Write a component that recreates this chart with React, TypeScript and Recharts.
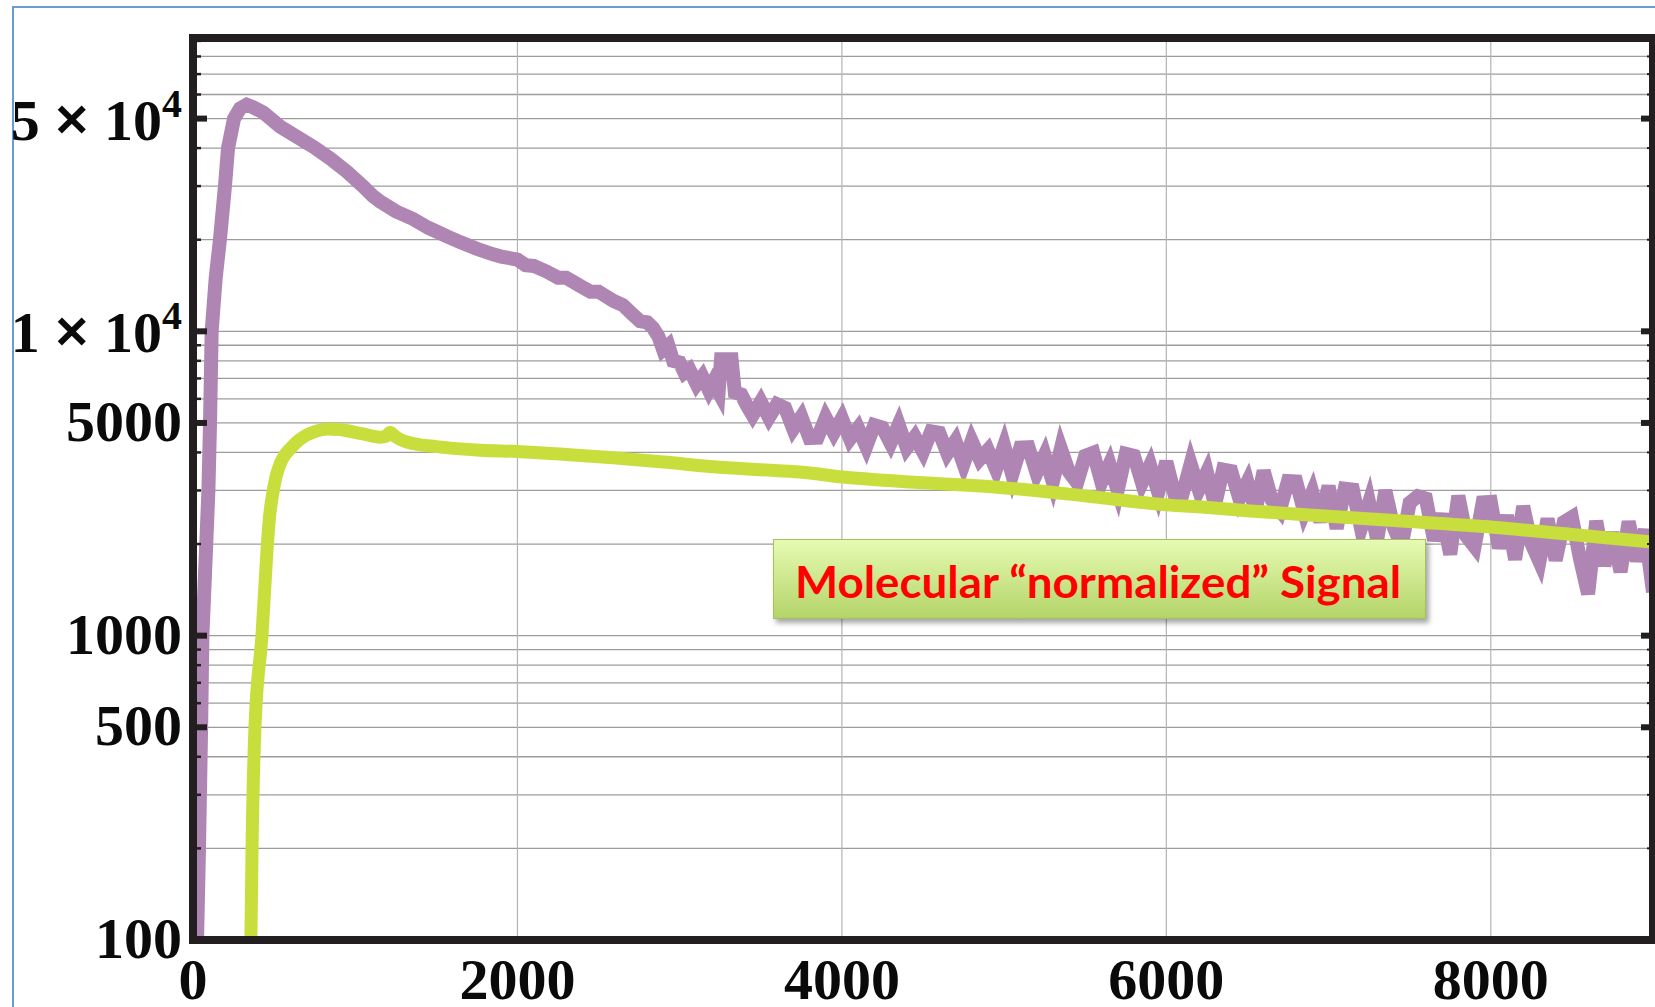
import React from "react";
import { LineChart, Line, XAxis, YAxis, CartesianGrid } from "recharts";

const X_TICKS = [0, 2000, 4000, 6000, 8000];
const X_MINOR = [500, 1000, 1500, 2500, 3000, 3500, 4500, 5000, 5500, 6500, 7000, 7500, 8500];
const Y_TICKS = [100, 500, 1000, 5000, 10000, 50000];
const Y_GRID = [
  100, 200, 300, 400, 500, 600, 700, 800, 900,
  1000, 2000, 3000, 4000, 5000, 6000, 7000, 8000, 9000,
  10000, 20000, 30000, 40000, 50000, 60000, 70000, 80000, 90000,
];

// purple: raw molecular signal (noisy)
const purpleT = [
  0, 20, 25, 37, 50, 58, 80, 95, 105, 115, 140, 166, 197, 216, 253, 290, 331, 370, 434, 536,
  642, 742, 845, 948, 1050, 1110, 1153, 1250, 1356, 1450, 1566, 1650, 1769, 1850, 1900, 2000,
  2050, 2100, 2182, 2250, 2300, 2386, 2450, 2500, 2590, 2650, 2700, 2756, 2800, 2836, 2870,
  2898, 2930, 2960, 3000, 3030, 3060, 3105, 3140, 3180, 3206, 3240, 3255, 3320, 3340, 3380, 3415,
  3450, 3500, 3550, 3600, 3650, 3700, 3750, 3800, 3850, 3900, 3950, 4000, 4050, 4100, 4150,
  4200, 4250, 4300, 4350, 4400, 4450, 4500, 4550, 4600, 4650, 4700, 4750, 4800, 4850, 4900,
  4950, 5000, 5050, 5100, 5150, 5200, 5250, 5300, 5350, 5400, 5450, 5500, 5550, 5600, 5650,
  5700, 5750, 5800, 5850, 5900, 5950, 6000, 6050, 6100, 6150, 6200, 6250, 6300, 6350, 6400,
  6450, 6500, 6550, 6600, 6650, 6700, 6750, 6800, 6850, 6900, 6950, 7000, 7050, 7100, 7150,
  7200, 7250, 7300, 7350, 7400, 7450, 7500, 7550, 7600, 7650, 7700, 7750, 7800, 7850, 7900,
  7950, 8000, 8050, 8100, 8150, 8200, 8250, 8300, 8350, 8400, 8450, 8500, 8550, 8600, 8650,
  8700, 8750, 8800, 8850, 8900, 8950, 9000,
];
const purpleV = [
  50, 80, 100, 200, 500, 1000, 1900, 3000, 5000, 10000, 15000, 20000, 30000, 40000, 50000, 54000, 55500, 54500, 52300, 47100,
  43500, 40400, 37000, 33500, 29900, 27800, 26700, 24800, 23400, 21900, 20500, 19600, 18500, 17900, 17600, 17200,
  16500, 16400, 15700, 15000, 15000, 14100, 13500, 13500, 12600, 12200, 11500, 10800, 10700, 10250, 9600,
  8700, 9000, 8000, 7900, 7300, 7500, 6700, 7100, 6400, 6800, 6300, 8100, 8100, 6300, 6200, 5700,
  5300, 5870, 5210, 5760, 5600, 4780, 5240, 4460, 4470, 5210, 4640, 5180, 4430, 4810, 4180,
  4920, 4830, 4290, 4940, 4140, 4500, 4020, 4690, 4640, 3970, 4360, 3660, 4360, 3800, 4070,
  3520, 4210, 3380, 4150, 4160, 3420, 3920, 3200, 4120, 3450, 3180, 3900, 3990, 3190, 3660,
  3000, 3960, 3900, 3180, 3630, 2960, 3730, 2920, 2920, 3670, 3020, 3450, 2690, 3510, 3470,
  2820, 3200, 2570, 3480, 2790, 2580, 3220, 3210, 2550, 2960, 2370, 3100, 2250, 3040, 3020,
  2250, 2740, 2070, 3000, 2280, 1970, 2730, 2870, 2820, 2060, 2510, 1850, 2880, 2120, 1960,
  2740, 2750, 1940, 2480, 1780, 2660, 2010, 1750, 2420, 1770, 2360, 2450, 1790, 1370, 2380,
  1700, 2180, 1620, 2370, 1760, 2230, 1390,
];

// green: "normalized" signal
const greenT = [
  330, 357, 364, 382, 425, 456, 470, 490, 515, 540, 570, 600, 650, 700, 760, 827, 900, 1048,
  1153, 1190, 1215, 1250, 1300, 1356, 1500, 1770, 2000, 2300, 2590, 2900, 3206, 3500, 3742,
  4007, 4500, 4975, 5500, 6000, 6240, 6517, 7000, 7500, 8015, 8500, 9000,
];
const greenV = [
  30, 100, 200, 500, 1000, 1900, 2400, 2900, 3380, 3700, 3950, 4120, 4380, 4560, 4700, 4780, 4760, 4600,
  4490, 4520, 4650, 4500, 4360, 4280, 4180, 4070, 4030, 3940, 3840, 3720, 3590, 3510, 3450,
  3320, 3180, 3070, 2880, 2690, 2640, 2570, 2470, 2370, 2270, 2150, 2030,
];

const purple = purpleT.map((t, i) => ({ t, v: purpleV[i] }));
const green = greenT.map((t, i) => ({ t, v: greenV[i] }));

const INK = "#231f20";
const SERIF = "'Liberation Serif', 'Times New Roman', serif";
const frameLine = { stroke: INK, strokeWidth: 8, strokeLinecap: "square" as const };

const NoTick = () => <g />;

const XTick = ({ x, y, payload }: any) => (
  <text x={x} y={y + 59} textAnchor="middle" fontFamily={SERIF} fontWeight="bold" fontSize={58} fill="#0a0a0a">
    {payload.value}
  </text>
);

const YTick = ({ x, y, payload }: any) => {
  const v = payload.value;
  if (v >= 10000) {
    const e = Math.floor(Math.log10(v));
    const m = Math.round(v / Math.pow(10, e));
    return (
      <text x={x} y={y + 21} textAnchor="end" fontFamily={SERIF} fontWeight="bold" fontSize={58} fill="#0a0a0a">
        {`${m} `}
        <tspan fontSize={62} stroke="#0a0a0a" strokeWidth={1.6}>×</tspan>
        {" 10"}
        <tspan dy={-23} fontSize={40}>{e}</tspan>
      </text>
    );
  }
  return (
    <text x={x} y={y + 18} textAnchor="end" fontFamily={SERIF} fontWeight="bold" fontSize={58} fill="#0a0a0a">
      {v}
    </text>
  );
};

const tickStroke = (w: number) => ({ stroke: INK, strokeWidth: w });
const X_DOMAIN = [0, 9000];
const Y_DOMAIN = [100, 92000];

export default function App() {
  return (
    <div style={{ position: "absolute", left: 0, top: 0, width: 1655, height: 1007, overflow: "hidden", background: "#fff" }}>
      {/* slide frame */}
      <div style={{ position: "absolute", left: 12, top: 6, width: 2000, height: 2000, border: "2px solid #6b9bd2" }} />

      <div style={{ position: "absolute", left: 0, top: 0 }}>
        <LineChart width={1655} height={1007} margin={{ top: 38, right: 2, bottom: 0, left: 0 }}>
          <CartesianGrid xAxisId="x" yAxisId="ylm" vertical={false} stroke="#9c9c9c" strokeWidth={1.3} />
          <CartesianGrid xAxisId="x" yAxisId="y" horizontal={false} stroke="#b4b4b4" strokeWidth={1.2} />

          <XAxis xAxisId="x" dataKey="t" type="number" domain={X_DOMAIN} allowDataOverflow ticks={X_TICKS} interval={0}
            height={67} tickSize={0} tickMargin={0} tickLine={false} axisLine={frameLine} tick={(p: any) => <XTick {...p} />} />
          <XAxis xAxisId="xb" type="number" domain={X_DOMAIN} allowDataOverflow ticks={X_TICKS} interval={0} mirror
            height={1} tickSize={14} tickLine={tickStroke(5)} axisLine={false} tick={NoTick} />
          <XAxis xAxisId="xbm" type="number" domain={X_DOMAIN} allowDataOverflow ticks={X_MINOR} interval={0} mirror
            height={1} tickSize={10} tickLine={tickStroke(4)} axisLine={false} tick={NoTick} />
          <XAxis xAxisId="xt" orientation="top" type="number" domain={X_DOMAIN} allowDataOverflow ticks={X_TICKS} interval={0} mirror
            height={1} tickSize={12} tickLine={tickStroke(7)} axisLine={frameLine} tick={NoTick} />
          <XAxis xAxisId="xtm" orientation="top" type="number" domain={X_DOMAIN} allowDataOverflow ticks={X_MINOR} interval={0} mirror
            height={1} tickSize={9} tickLine={tickStroke(5)} axisLine={false} tick={NoTick} />

          <YAxis yAxisId="y" scale="log" type="number" domain={Y_DOMAIN} allowDataOverflow ticks={Y_TICKS} interval={0}
            width={193} tickSize={0} tickMargin={11} tickLine={false} axisLine={frameLine} tick={(p: any) => <YTick {...p} />} />
          <YAxis yAxisId="yl" scale="log" type="number" domain={Y_DOMAIN} allowDataOverflow ticks={Y_TICKS} interval={0} mirror
            width={1} tickSize={14} tickLine={tickStroke(6)} axisLine={false} tick={NoTick} />
          <YAxis yAxisId="ylm" scale="log" type="number" domain={Y_DOMAIN} allowDataOverflow ticks={Y_GRID} interval={0} mirror
            width={1} tickSize={7} tickLine={tickStroke(2.5)} axisLine={false} tick={NoTick} />
          <YAxis yAxisId="yr" orientation="right" scale="log" type="number" domain={Y_DOMAIN} allowDataOverflow ticks={Y_TICKS} interval={0} mirror
            width={1} tickSize={12} tickLine={tickStroke(6)} axisLine={frameLine} tick={NoTick} />
          <YAxis yAxisId="yrm" orientation="right" scale="log" type="number" domain={Y_DOMAIN} allowDataOverflow ticks={Y_GRID} interval={0} mirror
            width={1} tickSize={5} tickLine={tickStroke(2)} axisLine={false} tick={NoTick} />

          <Line xAxisId="x" yAxisId="y" data={purple} dataKey="v" type="linear" stroke="#af86b3" strokeWidth={14}
            dot={false} activeDot={false} isAnimationActive={false} />
          <Line xAxisId="x" yAxisId="y" data={green} dataKey="v" type="monotone" stroke="#c8de3c" strokeWidth={13}
            strokeLinejoin="round" dot={false} activeDot={false} isAnimationActive={false} />
        </LineChart>
      </div>

      {/* annotation box */}
      <div
        style={{
          position: "absolute", left: 773, top: 539, width: 651, height: 78,
          background: "linear-gradient(#e6fbb2, #b4d469)",
          border: "1px solid #a3c25e",
          boxShadow: "3px 4px 5px rgba(0,0,0,0.35)",
        }}
      >
        <svg width={651} height={78} style={{ display: "block" }}>
          <text x={21} y={58} textLength={606} lengthAdjust="spacingAndGlyphs" fontFamily="Lato, 'Open Sans', sans-serif"
            fontWeight="bold" fontSize={43} fill="#ff0000">
            Molecular “normalized” Signal
          </text>
        </svg>
      </div>
    </div>
  );
}
